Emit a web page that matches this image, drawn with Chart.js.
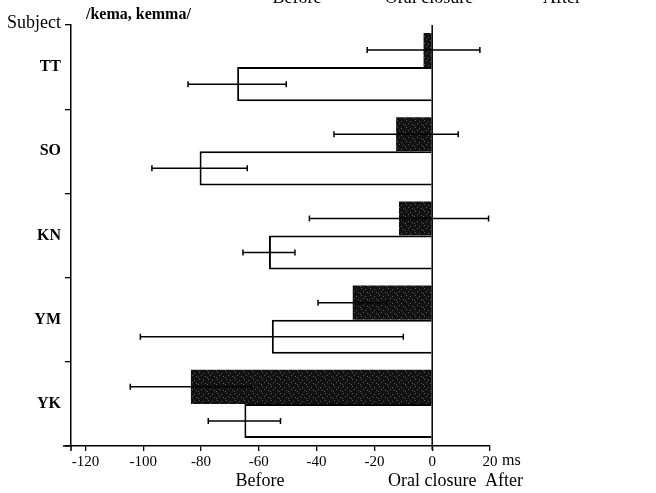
<!DOCTYPE html>
<html>
<head>
<meta charset="utf-8">
<script src="https://cdn.jsdelivr.net/npm/chart.js@4.4.1/dist/chart.umd.min.js"></script>
<style>
  html, body { margin: 0; padding: 0; background: #fff; }
  #wrap { width: 656px; height: 493px; position: relative; }
</style>
</head>
<body>
<div id="wrap"><canvas id="c" width="656" height="493"></canvas></div>
<script>
// Subjects, top to bottom
const subjects = ['TT', 'SO', 'KN', 'YM', 'YK'];

// Filled (upper) bars: mean timing in ms and standard deviation
const filledMeans = [-3, -12.5, -11.5, -27.5, -83.5];
const filledSD    = [19.5, 21.5, 31, 12, 21];

// Open (lower) bars: mean timing in ms and standard deviation
const openMeans = [-67.5, -80.5, -56.5, -55.5, -65];
const openSD    = [17, 16.5, 9, 45.5, 12.5];

// Time axis ticks (ms relative to oral closure)
const timeTicks = [-120, -100, -80, -60, -40, -20, 0, 20];

const SERIF = '"Liberation Serif", "DejaVu Serif", serif';

// dark stipple fill for the filled bars
function stipple() {
  const c = document.createElement('canvas');
  c.width = 9; c.height = 7;
  const g = c.getContext('2d');
  g.fillStyle = '#121212';
  g.fillRect(0, 0, 9, 7);
  g.fillStyle = '#5a5a5a';
  [[1, 1], [5, 2], [3, 4], [7, 5], [0, 6]].forEach(([px, py]) => g.fillRect(px, py, 1, 1));
  return g.createPattern(c, 'repeat');
}

const errorBars = {
  id: 'errorBars',
  afterDatasetsDraw(chart) {
    const ctx = chart.ctx;
    const x = chart.scales.x;
    const sds = [filledSD, openSD];
    ctx.save();
    ctx.strokeStyle = '#000';
    ctx.lineWidth = 1.5;
    chart.data.datasets.forEach((ds, di) => {
      const meta = chart.getDatasetMeta(di);
      meta.data.forEach((bar, i) => {
        const m = ds.data[i], s = sds[di][i];
        const x1 = x.getPixelForValue(m - s);
        const x2 = x.getPixelForValue(m + s);
        const y = bar.y;
        ctx.beginPath();
        ctx.moveTo(x1, y); ctx.lineTo(x2, y);
        ctx.moveTo(x1, y - 3); ctx.lineTo(x1, y + 3);
        ctx.moveTo(x2, y - 3); ctx.lineTo(x2, y + 3);
        ctx.stroke();
      });
    });
    // zero (oral closure) reference line
    const x0 = x.getPixelForValue(0);
    const area = chart.chartArea;
    ctx.lineWidth = 1.5;
    ctx.beginPath();
    ctx.moveTo(x0, area.top);
    ctx.lineTo(x0, area.bottom + 4);
    ctx.stroke();
    ctx.restore();
  }
};

const annotations = {
  id: 'annotations',
  afterDraw(chart) {
    const ctx = chart.ctx;
    const x = chart.scales.x;
    const area = chart.chartArea;
    ctx.save();
    ctx.fillStyle = '#000';
    ctx.textBaseline = 'alphabetic';

    ctx.font = '18px ' + SERIF;
    ctx.textAlign = 'right';
    ctx.fillText('Subject', 61, 28);

    ctx.font = 'bold 16px ' + SERIF;
    ctx.textAlign = 'left';
    ctx.fillText('/kema, kemma/', 86, 19);

    // header row, partly above the page edge
    ctx.font = '18px ' + SERIF;
    ctx.textAlign = 'center';
    ctx.fillText('Before', 297, 3);
    ctx.fillText('Oral closure', 429, 3);
    ctx.fillText('After', 562, 3);

    // unit next to the last tick
    ctx.font = '16px ' + SERIF;
    ctx.textAlign = 'left';
    ctx.fillText('ms', x.getPixelForValue(20) + 12, 465);

    // footer row
    ctx.font = '18px ' + SERIF;
    ctx.textAlign = 'center';
    ctx.fillText('Before', 260, 486);
    ctx.textAlign = 'left';
    ctx.fillText('Oral closure', 388, 486);
    ctx.fillText('After', 485, 486);

    // short axis stubs past the corner
    ctx.strokeStyle = '#000';
    ctx.lineWidth = 1.5;
    ctx.beginPath();
    ctx.moveTo(area.left - 8, area.bottom);
    ctx.lineTo(area.left, area.bottom);
    ctx.moveTo(area.left, area.bottom);
    ctx.lineTo(area.left, area.bottom + 5);
    ctx.stroke();
    ctx.restore();
  }
};

new Chart(document.getElementById('c'), {
  type: 'bar',
  data: {
    labels: subjects,
    datasets: [
      {
        label: 'filled',
        data: filledMeans,
        backgroundColor: stipple(),
        borderColor: '#121212',
        borderWidth: 0
      },
      {
        label: 'open',
        data: openMeans,
        backgroundColor: '#ffffff',
        borderColor: '#000000',
        borderWidth: 2
      }
    ]
  },
  options: {
    indexAxis: 'y',
    responsive: false,
    animation: false,
    devicePixelRatio: 1,
    categoryPercentage: 0.81,
    barPercentage: 1,
    layout: { padding: { top: 25, right: 166, left: 0, bottom: 0 } },
    plugins: {
      legend: { display: false },
      tooltip: { enabled: false }
    },
    scales: {
      x: {
        type: 'linear',
        min: -125,
        max: 20,
        afterBuildTicks(scale) {
          scale.ticks = timeTicks.map(v => ({ value: v }));
        },
        afterFit(scale) { scale.height = 47; },
        grid: {
          drawOnChartArea: false,
          drawTicks: true,
          tickLength: 5,
          color: '#000',
          lineWidth: 1.3
        },
        border: { color: '#000', width: 1.5 },
        ticks: {
          color: '#000',
          font: { family: SERIF, size: 15 },
          padding: 2,
          maxRotation: 0,
          autoSkip: false
        }
      },
      y: {
        type: 'category',
        offset: true,
        afterFit(scale) { scale.width = 71; },
        grid: {
          offset: true,
          drawOnChartArea: false,
          drawTicks: true,
          tickLength: 6,
          color: '#000',
          lineWidth: 1.3
        },
        border: { color: '#000', width: 1.5 },
        ticks: {
          color: '#000',
          font: { family: SERIF, size: 16, weight: 'bold' },
          padding: 4
        }
      }
    }
  },
  plugins: [errorBars, annotations]
});
</script>
</body>
</html>
